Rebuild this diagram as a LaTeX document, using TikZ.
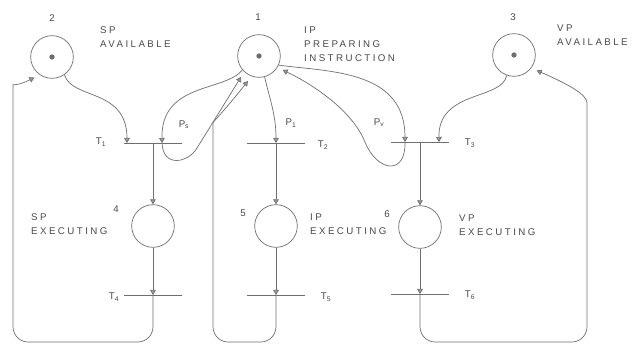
\documentclass[tikz,border=0pt]{standalone}
\usepackage{fontspec}
\setmainfont{Liberation Sans}
\usepackage{tikz}
\usetikzlibrary{arrows.meta, calc}
\definecolor{Lead}{HTML}{6E6E6E}
\definecolor{Ink}{HTML}{484848}
\definecolor{Tip}{HTML}{9A9A9A}

\begin{document}
\begin{tikzpicture}[
  x=0.03cm, y=-0.03cm,
  font=\fontsize{8.3}{12}\selectfont\addfontfeature{LetterSpace=25},
  placebox/.style={circle, draw=Lead, line width=0.6pt, minimum size=1.28cm, inner sep=0pt},
  token/.style={circle, fill=Lead, minimum size=0.16cm, inner sep=0pt},
  transbar/.style={rectangle, fill=Lead, minimum width=1.75cm, minimum height=0.6pt, inner sep=0pt},
  note/.style={text=Ink, align=left, anchor=west, inner sep=0pt},
  num/.style={text=Ink, inner sep=0pt},
  arrow/.style={-{Triangle[length=1.5mm, width=1.7mm, fill=Tip]}, draw=Lead, line width=0.6pt},
  gap/.style={shorten >=5pt},
  backline/.style={rounded corners=13pt}
]
\useasboundingbox (0,0) rectangle (634,345);

\node[placebox] (p2) at (52,57) {};
\node[placebox] (p1) at (259,56) {};
\node[placebox] (p3) at (514,55) {};
\node[placebox] (p4) at (153,226) {};
\node[placebox] (p5) at (276,226) {};
\node[placebox] (p6) at (420,227) {};
\node[token] (k2) at (p2) {};
\node[token] (k1) at (p1) {};
\node[token] (k3) at (p3) {};

\node[transbar] (t1) at (153,143) {};
\node[transbar] (t2) at (276,143) {};
\node[transbar] (t3) at (420,142) {};
\node[transbar] (t4) at (153,295) {};
\node[transbar] (t5) at (276,295) {};
\node[transbar] (t6) at (420,294) {};

\node[num] (n2) at (52,18) {2};
\node[num] (n1) at (258,17) {1};
\node[num] (n3) at (513,17) {3};
\node[num] (n4) at (116,209) {4};
\node[num] (n5) at (243,213) {5};
\node[num] (n6) at (387,214) {6};
\node[note] (l2) at (100,37) {SP\\AVAILABLE};
\node[note] (l1) at (304,44) {IP\\PREPARING\\INSTRUCTION};
\node[note] (l3) at (557,35) {VP\\AVAILABLE};
\node[note] (l4) at (31,224) {SP\\EXECUTING};
\node[note] (l5) at (310,224) {IP\\EXECUTING};
\node[note] (l6) at (459,225) {VP\\EXECUTING};

\node[num] (tl1) at (101,142) {T\textsubscript{1}};
\node[num] (tl2) at (323,145) {T\textsubscript{2}};
\node[num] (tl3) at (470,143) {T\textsubscript{3}};
\node[num] (tl4) at (114,297) {T\textsubscript{4}};
\node[num] (tl5) at (326,297) {T\textsubscript{5}};
\node[num] (tl6) at (470,295) {T\textsubscript{6}};
\node[num] (ps) at (184,125) {P\textsubscript{s}};
\node[num] (pi) at (291,123) {P\textsubscript{1}};
\node[num] (pv) at (379,123) {P\textsubscript{v}};

\draw[arrow] (p2.-55) .. controls (72,100) and (127,88) .. ($(t1.center)+(-26,0)$);
\draw[arrow] (p1.-140) .. controls (225,92) and (161,82) .. ($(t1.center)+(9,0)$);
\draw[arrow, gap] ($(t1.center)+(9,0)$) .. controls (163,168) and (188,163) .. (197,148) -- (p1.-133);
\draw[arrow] (p1.-75) .. controls (270,100) and (276,115) .. (t2.center);
\draw[arrow] (p1.-25) .. controls (330,72) and (405,70) .. ($(t3.center)+(-15,0)$);
\draw[arrow, gap] ($(t3.center)+(-15,0)$) .. controls (406,176) and (377,172) .. (365,142) .. controls (352,110) and (312,84) .. (p1.-32);
\draw[arrow] (p3.-110) .. controls (503,100) and (438,90) .. ($(t3.center)+(19,0)$);

\draw[arrow] (t1.center) -- (p4);
\draw[arrow] (p4) -- (t4.center);
\draw[arrow] (t2.center) -- (p5);
\draw[arrow] (p5) -- (t5.center);
\draw[arrow] (t3.center) -- (p6);
\draw[arrow] (p6) -- (t6.center);

\draw[arrow, gap, backline] (t4.center) -- (153,342) -- (13,342) -- (13,100) .. controls (13,85) and (20,85) .. (p2.-125);
\draw[arrow, gap, backline] (t5.center) -- (276,342) -- (213,342) -- (213,138) .. controls (213,122) and (225,110) .. (p1.-110);
\draw[arrow, gap, backline] (t6.center) -- (420,342) -- (587,342) -- (587,118) .. controls (587,95) and (570,85) .. (p3.-37);
\end{tikzpicture}
\end{document}
